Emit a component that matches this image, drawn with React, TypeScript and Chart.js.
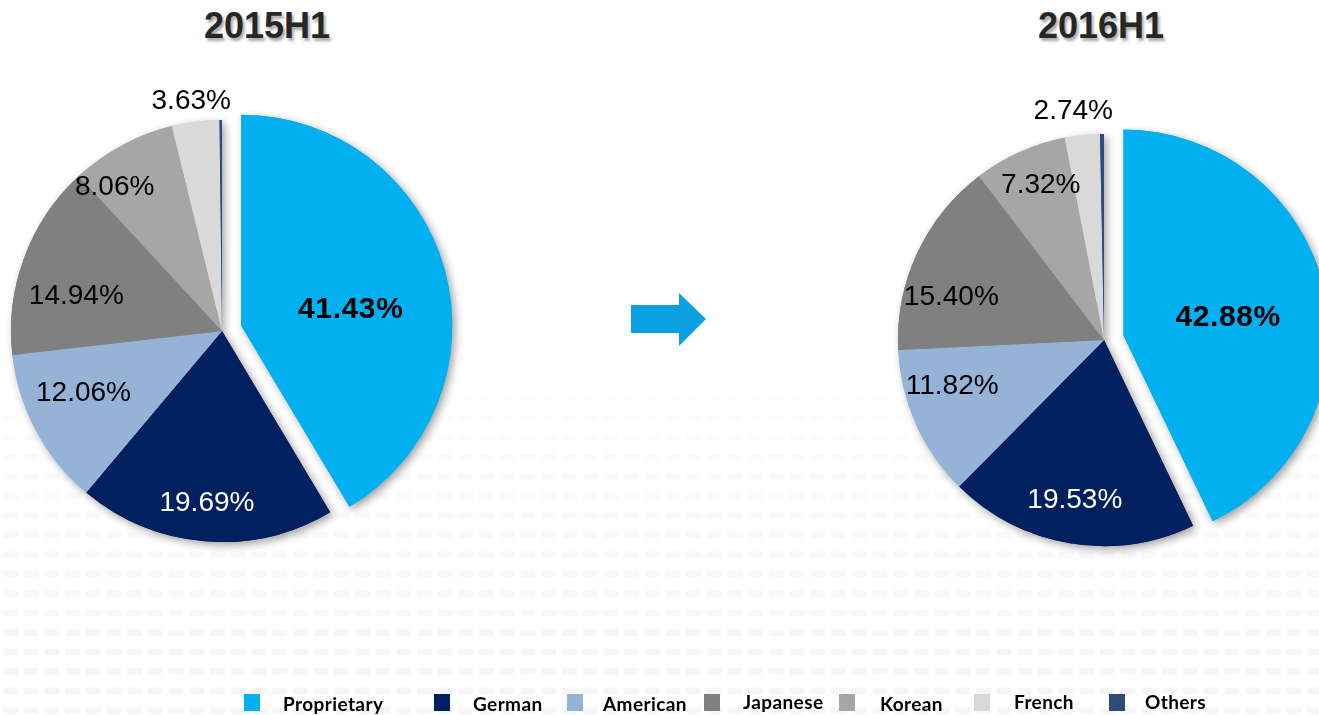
import React, { useEffect, useRef } from "react";
import { Chart, registerables } from "chart.js";

Chart.register(...registerables);

// ---------- data ----------
const CATEGORIES = ["Proprietary", "German", "American", "Japanese", "Korean", "French", "Others"];
const PERIODS = ["2015H1", "2016H1"];
const SHARE_2015H1 = [41.43, 19.69, 12.06, 14.94, 8.06, 3.63, 0.19];
const SHARE_2016H1 = [42.88, 19.53, 11.82, 15.4, 7.32, 2.74, 0.31];

// ---------- styles ----------
const COLORS = ["#00B0F0", "#002060", "#95B3D7", "#808080", "#A6A6A6", "#D9D9D9", "#2E4B7B"];
const LABEL_COLORS = ["#000000", "#FFFFFF", "#000000", "#000000", "#000000", "#000000", "#000000"];

// label placement (fraction of radius, angular tweak in degrees); null = no label
const LABEL_R_2015 = [0.524, 0.82, 0.72, 0.71, 0.85, 1.1, null];
const LABEL_SHIFT_2015 = [7.3, 0.4, 4.0, -6.8, -8.5, -0.4, 0];
const LABEL_R_2016 = [0.515, 0.79, 0.77, 0.77, 0.81, 1.12, null];
const LABEL_SHIFT_2016 = [3.2, 0.8, 7.2, -9.2, 1.9, -1.6, 0];

const EXPLODE = 20;

type PieProps = {
  values: number[];
  radius: number;
  left: number;
  width: number;
  padding: { left: number; top: number; right: number; bottom: number };
  labelR: (number | null)[];
  labelShift: number[];
};

function Pie({ values, radius, left, width, padding, labelR, labelShift }: PieProps) {
  const ref = useRef<HTMLCanvasElement | null>(null);
  useEffect(() => {
    if (!ref.current) return;
    const explodePlugin = {
      id: "explodeFirst",
      afterUpdate(chart: any) {
        const el: any = chart.getDatasetMeta(0).data[0];
        if (!el) return;
        const mid = (el.startAngle + el.endAngle) / 2;
        el.x += Math.cos(mid) * EXPLODE;
        el.y += Math.sin(mid) * EXPLODE;
      },
    };
    const shadowPlugin = {
      id: "softShadow",
      beforeDatasetsDraw(chart: any) {
        const ctx = chart.ctx;
        ctx.save();
        ctx.shadowColor = "rgba(0,0,0,0.38)";
        ctx.shadowBlur = 9;
        ctx.shadowOffsetX = 3;
        ctx.shadowOffsetY = 3;
        chart.getDatasetMeta(0).data.forEach((el: any) => el.draw(ctx));
        ctx.restore();
      },
    };
    const labelPlugin = {
      id: "sliceLabels",
      afterDatasetsDraw(chart: any) {
        const ctx = chart.ctx;
        const vals = chart.data.datasets[0].data as number[];
        chart.getDatasetMeta(0).data.forEach((el: any, i: number) => {
          const f = labelR[i];
          if (f == null) return;
          const mid = (el.startAngle + el.endAngle) / 2 + (labelShift[i] * Math.PI) / 180;
          const r = el.outerRadius * f;
          const x = el.x + Math.cos(mid) * r;
          const y = el.y + Math.sin(mid) * r;
          ctx.save();
          const bold = i === 0;
          ctx.font = bold ? "bold 30px 'Liberation Sans', Arial, sans-serif" : "28px 'Liberation Sans', Arial, sans-serif";
          (ctx as any).letterSpacing = bold ? "0.6px" : "0px";
          ctx.fillStyle = LABEL_COLORS[i];
          ctx.textAlign = "center";
          ctx.textBaseline = "middle";
          ctx.fillText(vals[i].toFixed(2) + "%", x, y);
          ctx.restore();
        });
      },
    };
    const chart = new Chart(ref.current, {
      type: "pie",
      data: {
        labels: CATEGORIES,
        datasets: [
          {
            data: values,
            backgroundColor: COLORS,
            borderWidth: 0,
            radius: radius,
            clip: false,
          } as any,
        ],
      },
      options: {
        responsive: false,
        animation: false,
        events: [],
        radius: radius,
        layout: { padding },
        plugins: {
          legend: { display: false },
          tooltip: { enabled: false },
          title: { display: false },
        },
      } as any,
      plugins: [explodePlugin, shadowPlugin, labelPlugin],
    });
    return () => chart.destroy();
  }, []);
  return (
    <canvas
      ref={ref}
      width={width}
      height={715}
      style={{ position: "absolute", left, top: 0, width, height: 715 }}
    />
  );
}

const LEGEND_SQUARE_X = [244, 434, 567, 704, 839, 974, 1109];
const LEGEND_TEXT_X = [283, 473, 603, 743, 880, 1014, 1145];
const LEGEND_RAISE = [0, 0, 0, 2, 0, 2, 2];

export default function App() {
  const titleStyle: React.CSSProperties = {
    position: "absolute",
    top: 8,
    width: 300,
    textAlign: "center",
    font: "bold 36px 'Liberation Sans', Arial, sans-serif",
    lineHeight: "36px",
    color: "#262626",
    textShadow: "2px 3px 3px rgba(0,0,0,0.35)",
  };
  return (
    <div
      style={{
        position: "fixed",
        left: 0,
        top: 0,
        width: 1319,
        height: 715,
        overflow: "hidden",
        background: "#ffffff",
      }}
    >
      <svg width={1319} height={715} style={{ position: "absolute", left: 0, top: 0 }}>
        <defs>
          <pattern id="dash" x="0" y="0" width="20.7" height="19.5" patternUnits="userSpaceOnUse">
            <rect x="3" y="5" width="15" height="7" rx="2" fill="#f6f6f6" />
          </pattern>
          <linearGradient id="fade" x1="0" y1="0" x2="0" y2="1">
            <stop offset="0" stopColor="#fff" stopOpacity="0" />
            <stop offset="0.4" stopColor="#fff" stopOpacity="0.6" />
            <stop offset="1" stopColor="#fff" stopOpacity="1" />
          </linearGradient>
          <mask id="fadeMask">
            <rect x="0" y="340" width="1319" height="375" fill="url(#fade)" />
          </mask>
        </defs>
        <rect x="0" y="340" width="1319" height="375" fill="url(#dash)" mask="url(#fadeMask)" />
        <polygon points="631,305 679,305 679,293 706,319 679,346 679,333 631,333" fill="#0AA0E2" />
      </svg>

      <div style={{ ...titleStyle, left: 117 }}>{PERIODS[0]}</div>
      <div style={{ ...titleStyle, left: 951 }}>{PERIODS[1]}</div>

      <Pie
        values={SHARE_2015H1}
        radius={211}
        left={0}
        width={660}
        padding={{ left: 11, top: 120, right: 227, bottom: 173 }}
        labelR={LABEL_R_2015}
        labelShift={LABEL_SHIFT_2015}
      />
      <Pie
        values={SHARE_2016H1}
        radius={206}
        left={680}
        width={639}
        padding={{ left: 218, top: 134, right: 9, bottom: 169 }}
        labelR={LABEL_R_2016}
        labelShift={LABEL_SHIFT_2016}
      />

      {CATEGORIES.map((c, i) => (
        <React.Fragment key={c}>
          <div
            style={{
              position: "absolute",
              left: LEGEND_SQUARE_X[i],
              top: 694,
              width: 16,
              height: 17,
              background: COLORS[i],
            }}
          />
          <div
            style={{
              position: "absolute",
              left: LEGEND_TEXT_X[i],
              top: 694 - LEGEND_RAISE[i],
              font: "bold 19px Lato, 'Noto Sans', sans-serif",
              letterSpacing: "0.4px",
              lineHeight: "19px",
              color: "#000",
              whiteSpace: "nowrap",
            }}
          >
            {c}
          </div>
        </React.Fragment>
      ))}
    </div>
  );
}
